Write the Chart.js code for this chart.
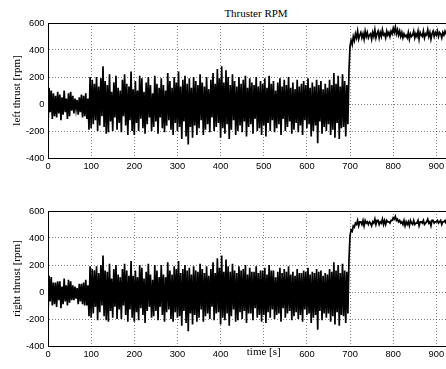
<!DOCTYPE html>
<html>
<head>
<meta charset="utf-8">
<script src="https://cdn.jsdelivr.net/npm/chart.js@4.4.1/dist/chart.umd.min.js"></script>
<style>
  html, body { margin: 0; padding: 0; background: #fff; overflow: hidden; width: 446px; height: 369px; }
  #wrap { position: relative; width: 446px; height: 369px; overflow: hidden; }
  canvas { position: absolute; left: 0; }
  #c1 { top: 0; }
  #c2 { top: 185px; }
  #title { position: absolute; left: 0; width: 512px; top: 7px; text-align: center;
           font-family: "Liberation Serif", serif; font-size: 11px; color: #000; line-height: 13px; }
</style>
</head>
<body>
<div id="wrap">
  <div id="title">Thruster RPM</div>
  <canvas id="c1" width="500" height="185"></canvas>
  <canvas id="c2" width="500" height="184"></canvas>
</div>
<script>
// ---- data ----
const SAMPLE_START = 0;     // s
const SAMPLE_STEP = 2.5;    // s between samples
const X_TICKS = [0, 100, 200, 300, 400, 500, 600, 700, 800, 900, 1000];
const Y_TICKS = [-400, -200, 0, 200, 400, 600];

const leftThrust = [
  -180, 120, -60, 100, -110, 80, -90, 60, -100, 90, -70, 70, -120, 50, -80, 100, -60, 40, -110, 80,
  -90, 90, -50, 60, -70, 40, -40, 30, -80, 50, -60, 70, -100, 60, -90, 80, -110, 40, -190, 200,
  -180, 180, -150, 150, -120, 200, -200, 130, -160, 190, -90, 280, -170, 170, -220, 140, -210, 220, -130, 90,
  -200, 160, -100, 210, -190, 120, -140, 100, -210, 180, -90, 220, -160, 150, -230, 130, -120, 240, -200, 110,
  -230, 170, -140, 100, -200, 210, -110, 190, -180, 90, -220, 160, -150, 200, -100, 140, -200, 80, -170, 210,
  -130, 150, -220, 120, -100, 190, -180, 140, -210, 100, -160, 230, -120, 170, -190, 120, -230, 200, -140, 160,
  -200, 240, -170, 130, -260, 180, -130, 210, -240, 150, -300, 190, -170, 120, -250, 200, -160, 170, -230, 140,
  -180, 220, -120, 160, -230, 130, -190, 200, -150, 110, -210, 180, -100, 230, -200, 150, -170, 260, -140, 190,
  -250, 280, -180, 160, -220, 250, -150, 200, -260, 140, -190, 220, -120, 170, -230, 130, -200, 200, -160, 150,
  -210, 180, -130, 210, -240, 120, -170, 190, -150, 160, -220, 140, -110, 200, -200, 130, -180, 170, -230, 150,
  -160, 190, -240, 120, -140, 210, -200, 150, -120, 170, -210, 100, -180, 160, -150, 190, -230, 130, -110, 180,
  -200, 140, -170, 200, -130, 120, -220, 160, -190, 110, -140, 180, -210, 130, -160, 150, -230, 170, -120, 140,
  -180, 190, -150, 120, -240, 160, -200, 130, -160, 180, -290, 140, -130, 170, -220, 110, -170, 150, -200, 120,
  -150, 180, -230, 140, -190, 230, -250, 150, -140, 210, -260, 130, -180, 220, -170, 170, -240, 140, -150, 250,
  430, 470, 440, 500, 470, 520, 490, 540, 480, 510, 530, 490, 520, 480, 540, 500, 530, 490, 510, 520,
  480, 530, 500, 550, 490, 520, 540, 490, 530, 500, 550, 510, 520, 490, 540, 510, 530, 500, 540, 520,
  560, 530, 570, 520, 550, 510, 540, 500, 530, 490, 520, 500, 510, 490, 530, 480, 520, 500, 510, 540,
  490, 520, 500, 540, 480, 530, 510, 500, 540, 490, 520, 510, 550, 500, 530, 480, 520, 540, 500, 530,
  510, 540, 500, 530, 520, 490, 530, 510, 540, 520, 500
];

const rightThrust = [
  -170, 120, -70, 110, -100, 70, -90, 70, -110, 80, -60, 80, -120, 40, -90, 100, -70, 50, -100, 90,
  -80, 80, -60, 50, -60, 40, -50, 30, -90, 60, -70, 60, -90, 70, -100, 90, -100, 50, -180, 190,
  -190, 170, -160, 160, -110, 190, -210, 140, -150, 200, -100, 270, -180, 160, -210, 150, -220, 210, -140, 100,
  -190, 170, -110, 200, -200, 130, -130, 110, -200, 170, -100, 210, -170, 160, -220, 120, -130, 230, -190, 120,
  -220, 160, -150, 110, -210, 200, -120, 180, -170, 100, -230, 150, -140, 210, -110, 130, -190, 90, -180, 200,
  -140, 160, -210, 110, -110, 200, -170, 130, -220, 110, -150, 220, -130, 160, -200, 130, -220, 190, -150, 170,
  -190, 230, -180, 140, -250, 170, -140, 200, -230, 160, -290, 180, -160, 130, -240, 190, -170, 160, -220, 150,
  -190, 210, -130, 170, -220, 140, -180, 190, -160, 120, -200, 170, -110, 220, -210, 140, -160, 250, -150, 180,
  -240, 270, -190, 150, -210, 240, -160, 190, -250, 150, -180, 210, -130, 160, -220, 140, -210, 190, -150, 160,
  -200, 170, -140, 200, -230, 130, -160, 180, -160, 150, -210, 150, -120, 190, -190, 140, -170, 160, -220, 160,
  -170, 180, -230, 130, -150, 200, -190, 160, -130, 160, -200, 110, -170, 150, -160, 180, -220, 140, -120, 170,
  -190, 150, -160, 190, -140, 130, -210, 150, -180, 120, -150, 170, -200, 140, -170, 140, -220, 160, -130, 150,
  -170, 180, -160, 130, -230, 150, -190, 140, -170, 170, -280, 150, -140, 160, -210, 120, -160, 140, -190, 130,
  -160, 170, -220, 150, -180, 220, -240, 160, -150, 200, -250, 140, -170, 210, -180, 160, -230, 150, -160, 240,
  420, 460, 450, 490, 480, 510, 500, 530, 490, 520, 520, 500, 530, 490, 530, 510, 520, 500, 520, 510,
  490, 520, 510, 540, 500, 530, 530, 500, 520, 510, 540, 500, 530, 500, 530, 520, 520, 510, 530, 530,
  550, 540, 560, 530, 540, 520, 530, 510, 520, 500, 530, 490, 520, 500, 520, 490, 530, 510, 500, 530,
  500, 510, 510, 530, 490, 520, 520, 510, 530, 500, 510, 520, 540, 510, 520, 490, 530, 530, 510, 520,
  520, 530, 510, 520, 530, 500, 520, 520, 530, 510, 510
];

// ---- chart construction ----
function toPoints(values) {
  return values.map((v, i) => ({ x: SAMPLE_START + i * SAMPLE_STEP, y: v }));
}

const boxPlugin = {
  id: 'box',
  afterDraw(chart) {
    const a = chart.chartArea, ctx = chart.ctx;
    ctx.save();
    ctx.strokeStyle = '#000';
    ctx.lineWidth = 1;
    ctx.strokeRect(Math.round(a.left) + 0.5, Math.round(a.top) + 0.5,
                   Math.round(a.right - a.left), Math.round(a.bottom - a.top));
    ctx.restore();
  }
};

const tickFont = { family: '"Liberation Sans", Arial, sans-serif', size: 9.3 };
const labelFont = { family: '"Liberation Serif", "Times New Roman", serif', size: 11 };

function makeChart(canvasId, values, yLabel, opts) {
  return new Chart(document.getElementById(canvasId), {
    type: 'line',
    data: {
      datasets: [{
        data: toPoints(values),
        borderColor: '#000',
        borderWidth: 1.7,
        pointRadius: 0,
        tension: 0,
        fill: false
      }]
    },
    plugins: [boxPlugin],
    options: {
      responsive: false,
      animation: false,
      events: [],
      layout: { padding: { top: opts.top, right: 20.5, left: 0, bottom: 0 } },
      plugins: { legend: { display: false }, tooltip: { enabled: false }, title: { display: false } },
      scales: {
        x: {
          type: 'linear',
          min: X_TICKS[0],
          max: X_TICKS[X_TICKS.length - 1],
          afterBuildTicks: (s) => { s.ticks = X_TICKS.map(v => ({ value: v })); },
          afterFit: (s) => { s.height = opts.xHeight; },
          ticks: {
            autoSkip: false,
            maxRotation: 0,
            padding: 3,
            color: '#000',
            font: tickFont,
            callback: (v) => (opts.hideX && opts.hideX.includes(v)) ? '' : String(v)
          },
          grid: { color: 'rgba(0,0,0,0.5)', lineWidth: 1, drawTicks: false },
          border: { display: true, color: '#000', width: 1, dash: [1, 2] },
          title: opts.xTitle ? {
            display: true, text: opts.xTitle, color: '#000', font: labelFont,
            padding: { top: 0, bottom: opts.xTitlePad }
          } : { display: false }
        },
        y: {
          min: Y_TICKS[0],
          max: Y_TICKS[Y_TICKS.length - 1],
          afterBuildTicks: (s) => { s.ticks = Y_TICKS.map(v => ({ value: v })); },
          afterFit: (s) => { s.width = 48; },
          ticks: { padding: 3.5, color: '#000', font: tickFont },
          grid: { color: 'rgba(0,0,0,0.5)', lineWidth: 1, drawTicks: false },
          border: { display: true, color: '#000', width: 1, dash: [1, 2] },
          title: {
            display: true, text: yLabel, color: '#000', font: labelFont,
            padding: { top: 10.4, bottom: 0 }
          }
        }
      }
    }
  });
}

makeChart('c1', leftThrust, 'left thrust [rpm]', { top: 23, xHeight: 27 });
makeChart('c2', rightThrust, 'right thrust [rpm]', { top: 26, xHeight: 23, xTitle: 'time [s]', xTitlePad: 10.4, hideX: [500] });
</script>
</body>
</html>
